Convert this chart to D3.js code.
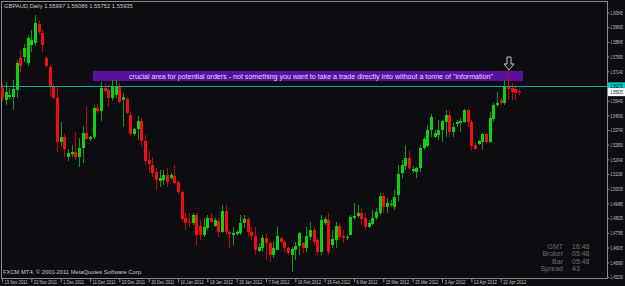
<!DOCTYPE html>
<html>
<head>
<meta charset="utf-8">
<script src="https://cdn.jsdelivr.net/npm/d3@7"></script>
<style>
  html, body { margin: 0; padding: 0; background: #0d0c10; }
  svg { display: block; }
  text { font-family: "Liberation Sans", Arial, sans-serif; }
</style>
</head>
<body>
<svg id="chart" width="625" height="286"></svg>
<script>
// GBPAUD daily, 13 Nov 2011 .. 27 Apr 2012
var opens = [
  1.5618, 1.5548, 1.5565, 1.5565, 1.5606, 1.5791, 1.5797, 1.5762, 1.5866, 1.5878,
  1.5988, 1.5936, 1.5791, 1.5739, 1.5629, 1.5560, 1.5305, 1.5334, 1.5218, 1.5235,
  1.5247, 1.5218, 1.5270, 1.5357, 1.5322, 1.5334, 1.5502, 1.5484, 1.5618, 1.5606,
  1.5560, 1.5577, 1.5623, 1.5548, 1.5554, 1.5461, 1.5351, 1.5380, 1.5426, 1.5311,
  1.5201, 1.5172, 1.5131, 1.5079, 1.5085, 1.5114, 1.5096, 1.5108, 1.5073, 1.5015,
  1.4865, 1.4842, 1.4836, 1.4882, 1.4818, 1.4766, 1.4807, 1.4865, 1.4818, 1.4847,
  1.4784, 1.4905, 1.4784, 1.4766, 1.4772, 1.4778, 1.4836, 1.4859, 1.4784, 1.4760,
  1.4674, 1.4691, 1.4749, 1.4720, 1.4651, 1.4680, 1.4749, 1.4726, 1.4691, 1.4651,
  1.4680, 1.4703, 1.4720, 1.4691, 1.4755, 1.4795, 1.4737, 1.4668, 1.4836, 1.4853,
  1.4708, 1.4737, 1.4818, 1.4760, 1.4749, 1.4766, 1.4865, 1.4876, 1.4894, 1.4865,
  1.4813, 1.4830, 1.4865, 1.4894, 1.4992, 1.4929, 1.4940, 1.4929, 1.4998, 1.5125,
  1.5166, 1.5212, 1.5137, 1.5131, 1.5154, 1.5270, 1.5282, 1.5374, 1.5334, 1.5345,
  1.5374, 1.5421, 1.5461, 1.5363, 1.5409, 1.5415, 1.5421, 1.5490, 1.5421, 1.5287,
  1.5293, 1.5305, 1.5351, 1.5305, 1.5438, 1.5519, 1.5548, 1.5531, 1.5629, 1.5618,
  1.5612, 1.55997
];
var highs = [
  1.5641, 1.5652, 1.5618, 1.5664, 1.5780, 1.5838, 1.5872, 1.5924, 1.5953, 1.6040,
  1.6005, 1.5953, 1.5803, 1.5751, 1.5641, 1.5623, 1.5421, 1.5351, 1.5264, 1.5287,
  1.5363, 1.5328, 1.5397, 1.5513, 1.5340, 1.5519, 1.5525, 1.5652, 1.5646, 1.5635,
  1.5664, 1.5664, 1.5646, 1.5589, 1.5565, 1.5479, 1.5386, 1.5455, 1.5444, 1.5345,
  1.5253, 1.5218, 1.5154, 1.5143, 1.5143, 1.5154, 1.5125, 1.5172, 1.5085, 1.5027,
  1.4894, 1.4894, 1.4894, 1.4894, 1.4853, 1.4865, 1.4882, 1.4894, 1.4865, 1.4865,
  1.4940, 1.4940, 1.4790, 1.4813, 1.4795, 1.4882, 1.4882, 1.4871, 1.4813, 1.4813,
  1.4720, 1.4766, 1.4778, 1.4726, 1.4726, 1.4813, 1.4755, 1.4737, 1.4697, 1.4697,
  1.4726, 1.4784, 1.4726, 1.4813, 1.4842, 1.4813, 1.4749, 1.4882, 1.4871, 1.4894,
  1.4795, 1.4842, 1.4836, 1.4795, 1.4766, 1.4882, 1.4952, 1.4940, 1.4923, 1.4894,
  1.4853, 1.4911, 1.4923, 1.5010, 1.5010, 1.4981, 1.4969, 1.5027, 1.5172, 1.5201,
  1.5287, 1.5253, 1.5166, 1.5160, 1.5287, 1.5334, 1.5403, 1.5467, 1.5374, 1.5432,
  1.5432, 1.5490, 1.5490, 1.5415, 1.5432, 1.5444, 1.5496, 1.5496, 1.5432, 1.5299,
  1.5316, 1.5357, 1.5357, 1.5479, 1.5531, 1.5594, 1.5560, 1.5664, 1.5722, 1.5646,
  1.5635, 1.56086
];
var lows = [
  1.5542, 1.5519, 1.5554, 1.5490, 1.5560, 1.5710, 1.5768, 1.5745, 1.5826, 1.5861,
  1.5930, 1.5826, 1.5733, 1.5565, 1.5554, 1.5247, 1.5282, 1.5218, 1.5195, 1.5218,
  1.5201, 1.5160, 1.5183, 1.5316, 1.5311, 1.5322, 1.5473, 1.5426, 1.5589, 1.5507,
  1.5542, 1.5560, 1.5531, 1.5392, 1.5467, 1.5340, 1.5340, 1.5316, 1.5276, 1.5172,
  1.5125, 1.5102, 1.5027, 1.5044, 1.5056, 1.5044, 1.5085, 1.5062, 1.5004, 1.4842,
  1.4795, 1.4813, 1.4824, 1.4708, 1.4737, 1.4755, 1.4795, 1.4836, 1.4813, 1.4755,
  1.4778, 1.4766, 1.4691, 1.4708, 1.4760, 1.4766, 1.4807, 1.4755, 1.4737, 1.4651,
  1.4668, 1.4668, 1.4622, 1.4610, 1.4633, 1.4680, 1.4720, 1.4668, 1.4651, 1.4552,
  1.4622, 1.4651, 1.4662, 1.4668, 1.4737, 1.4708, 1.4651, 1.4651, 1.4824, 1.4651,
  1.4691, 1.4691, 1.4737, 1.4720, 1.4737, 1.4766, 1.4853, 1.4865, 1.4824, 1.4795,
  1.4807, 1.4824, 1.4853, 1.4882, 1.4894, 1.4894, 1.4929, 1.4911, 1.4963, 1.5091,
  1.5143, 1.5143, 1.5125, 1.5096, 1.5131, 1.5259, 1.5276, 1.5334, 1.5328, 1.5316,
  1.5305, 1.5334, 1.5334, 1.5334, 1.5392, 1.5363, 1.5415, 1.5392, 1.5253, 1.5259,
  1.5287, 1.5259, 1.5299, 1.5299, 1.5421, 1.5507, 1.5519, 1.5519, 1.5548, 1.5548,
  1.5548, 1.55752
];
var closes = [
  1.5560, 1.5594, 1.5577, 1.5612, 1.5762, 1.5745, 1.5849, 1.5907, 1.5895, 1.5994,
  1.5942, 1.5866, 1.5745, 1.5623, 1.5560, 1.5305, 1.5334, 1.5264, 1.5241, 1.5247,
  1.5218, 1.5270, 1.5357, 1.5322, 1.5334, 1.5502, 1.5484, 1.5618, 1.5600, 1.5560,
  1.5629, 1.5623, 1.5536, 1.5565, 1.5473, 1.5351, 1.5380, 1.5426, 1.5311, 1.5195,
  1.5177, 1.5125, 1.5085, 1.5096, 1.5114, 1.5073, 1.5114, 1.5067, 1.5015, 1.4859,
  1.4836, 1.4836, 1.4882, 1.4766, 1.4766, 1.4813, 1.4865, 1.4842, 1.4853, 1.4784,
  1.4905, 1.4784, 1.4772, 1.4778, 1.4784, 1.4836, 1.4859, 1.4784, 1.4760, 1.4680,
  1.4697, 1.4749, 1.4720, 1.4651, 1.4691, 1.4760, 1.4726, 1.4691, 1.4662, 1.4685,
  1.4703, 1.4778, 1.4691, 1.4760, 1.4795, 1.4726, 1.4668, 1.4853, 1.4859, 1.4668,
  1.4743, 1.4818, 1.4755, 1.4749, 1.4755, 1.4871, 1.4876, 1.4894, 1.4859, 1.4813,
  1.4836, 1.4865, 1.4900, 1.4992, 1.4929, 1.4952, 1.4946, 1.4986, 1.5120, 1.5172,
  1.5212, 1.5154, 1.5148, 1.5154, 1.5270, 1.5322, 1.5374, 1.5450, 1.5357, 1.5374,
  1.5426, 1.5461, 1.5363, 1.5392, 1.5421, 1.5426, 1.5490, 1.5421, 1.5282, 1.5264,
  1.5311, 1.5351, 1.5305, 1.5444, 1.5519, 1.5531, 1.5531, 1.5629, 1.5612, 1.5594,
  1.5589, 1.55935
];

// x-axis labels, one every 8 bars
var dateLabels = ["13 Nov 2011", "22 Nov 2011", "1 Dec 2011", "11 Dec 2011", "20 Dec 2011",
  "30 Dec 2011", "10 Jan 2012", "19 Jan 2012", "29 Jan 2012", "7 Feb 2012", "16 Feb 2012",
  "26 Feb 2012", "6 Mar 2012", "15 Mar 2012", "25 Mar 2012", "3 Apr 2012", "12 Apr 2012",
  "22 Apr 2012"];
var dateIndex = dateLabels.map(function (d, i) { return i * 8; });

// price axis labels
var priceTicks = [1.60545, 1.59695, 1.58845, 1.57995, 1.57140, 1.56290, 1.55440, 1.54590,
  1.53740, 1.52890, 1.52040, 1.51190, 1.50335, 1.49485, 1.48635, 1.47785, 1.46935,
  1.46080, 1.45230];

var levelLine = 1.5627;   // cyan horizontal line
var header = "GBPAUD,Daily  1.55997 1.56086 1.55752 1.55935";
var note = 'crucial area for potential orders - not something you want to take a trade directly into without a tonne of "information"';
var infoNames = ["GMT", "Broker", "Bar", "Spread"];
var infoValues = ["16:48", "05:48", "05:48", "43"];

var bars = opens.map(function (o, i) {
  return {i: i, o: o, h: highs[i], l: lows[i], c: closes[i]};
});

var svg = d3.select("#chart");
var W = 625, H = 286;
var plotRight = 607, plotBottom = 278.5;
var fmt = d3.format(".5f");

var x = d3.scaleLinear().domain([0, bars.length - 1]).range([2, 519]);
var y = d3.scaleLinear().domain([1.45230, 1.60545]).range([277, 12.5]);

svg.append("rect").attr("width", W).attr("height", H).attr("fill", "#0d0c10");

// frame
svg.append("path")
  .attr("d", "M1.5," + plotBottom + "V1.5H" + (plotRight + 0.5))
  .attr("fill", "none").attr("stroke", "#8a8a8a").attr("stroke-width", 1)
  .attr("shape-rendering", "crispEdges");

// purple note box (behind candles)
svg.append("rect")
  .attr("x", 93).attr("y", 71).attr("width", 430).attr("height", 10)
  .attr("fill", "#5a129c");
svg.append("text")
  .attr("x", 311).attr("y", 79)
  .attr("text-anchor", "middle")
  .attr("font-size", 7.6)
  .attr("fill", "#e4d8ff")
  .attr("textLength", 364).attr("lengthAdjust", "spacingAndGlyphs")
  .text(note);

// candles
var up = "#12cf12", down = "#f01010";
var g = svg.append("g");
g.selectAll("line.wick").data(bars).enter().append("line")
  .attr("class", "wick")
  .attr("x1", function (d) { return Math.round(x(d.i)) + 0.5; })
  .attr("x2", function (d) { return Math.round(x(d.i)) + 0.5; })
  .attr("y1", function (d) { return y(d.h); })
  .attr("y2", function (d) { return y(d.l); })
  .attr("stroke", function (d) { return d.c >= d.o ? "#109a10" : "#b80c0c"; })
  .attr("stroke-width", 1);

g.selectAll("rect.body").data(bars).enter().append("rect")
  .attr("class", "body")
  .attr("x", function (d) { return Math.round(x(d.i)) - 1; })
  .attr("width", 3)
  .attr("y", function (d) { return y(Math.max(d.o, d.c)); })
  .attr("height", function (d) { return Math.max(1, Math.abs(y(d.o) - y(d.c))); })
  .attr("fill", function (d) { return d.c >= d.o ? up : down; });

// cyan level
svg.append("line")
  .attr("x1", 2).attr("x2", plotRight)
  .attr("y1", Math.round(y(levelLine)) + 0.5).attr("y2", Math.round(y(levelLine)) + 0.5)
  .attr("stroke", "#10a8a8").attr("stroke-width", 1);

// down arrow over the last bars
var ax = x(138) + 1, ay = 57;
svg.append("path")
  .attr("d", "M" + (ax - 2) + "," + ay + "h4v7h3l-5,6l-5,-6h3z")
  .attr("fill", "#0d0c10").attr("stroke", "#d8d8d8").attr("stroke-width", 0.9);

// price axis
var yAxis = d3.axisRight(y).tickValues(priceTicks)
  .tickFormat(fmt).tickSize(2).tickPadding(1);
var ya = svg.append("g").attr("transform", "translate(" + (plotRight + 0.5) + ",0)").call(yAxis);
ya.select(".domain").attr("stroke", "#8a8a8a").attr("d", "M0,1.5V" + plotBottom);
ya.selectAll(".tick line").attr("stroke", "#8a8a8a");
// squeeze the labels horizontally so they fit in the narrow strip
ya.selectAll(".tick text").attr("fill", "#c4c4c4").attr("font-size", 5.4)
  .attr("font-family", "Liberation Sans, Arial, sans-serif")
  .attr("x", 0).attr("transform", "translate(3,0) scale(0.63,1)");

// price tags on the axis
function tag(price, fill) {
  var yy = y(price);
  svg.append("rect").attr("x", plotRight + 1).attr("y", yy - 4)
    .attr("width", W - plotRight).attr("height", 8).attr("fill", fill);
  svg.append("text")
    .attr("transform", "translate(" + (plotRight + 3.5) + "," + (yy + 2) + ") scale(0.63,1)")
    .attr("font-size", 5.4).attr("fill", "#000")
    .text(fmt(price));
}
tag(levelLine, "#10c8c8");
tag(closes[closes.length - 1], "#ffffff");

// date axis
var xAxis = d3.axisBottom(x).tickValues(dateIndex)
  .tickFormat(function (d, i) { return dateLabels[i]; }).tickSize(4).tickPadding(0);
var xa = svg.append("g").attr("transform", "translate(0," + plotBottom + ")").call(xAxis);
xa.select(".domain").attr("stroke", "#8a8a8a").attr("d", "M1.5,0H" + (plotRight + 0.5));
xa.selectAll(".tick line").attr("stroke", "#8a8a8a").attr("y1", 0);
xa.selectAll(".tick text").attr("fill", "#c4c4c4").attr("font-size", 5)
  .attr("font-family", "Liberation Sans, Arial, sans-serif")
  .attr("text-anchor", "start").attr("x", 2).attr("dy", "0.3em").attr("y", 3.5)
  .attr("textLength", function (d, i) { return dateLabels[i].length * 2.1; })
  .attr("lengthAdjust", "spacingAndGlyphs");

// texts
svg.append("text").attr("x", 4).attr("y", 8).attr("font-size", 5.8)
  .attr("fill", "#c8c8c8").text(header);
svg.append("text").attr("x", 3).attr("y", 274).attr("font-size", 5.8)
  .attr("fill", "#c8c8c8").text("FXCM MT4, \u00a9 2001-2011 MetaQuotes Software Corp.");

var info = svg.append("g").attr("font-size", 7).attr("fill", "#6e6e6e");
infoNames.forEach(function (n, i) {
  info.append("text").attr("x", 563).attr("y", 249 + i * 7.3)
    .attr("text-anchor", "end").text(n);
  info.append("text").attr("x", 572).attr("y", 249 + i * 7.3).text(infoValues[i]);
});
</script>
</body>
</html>
